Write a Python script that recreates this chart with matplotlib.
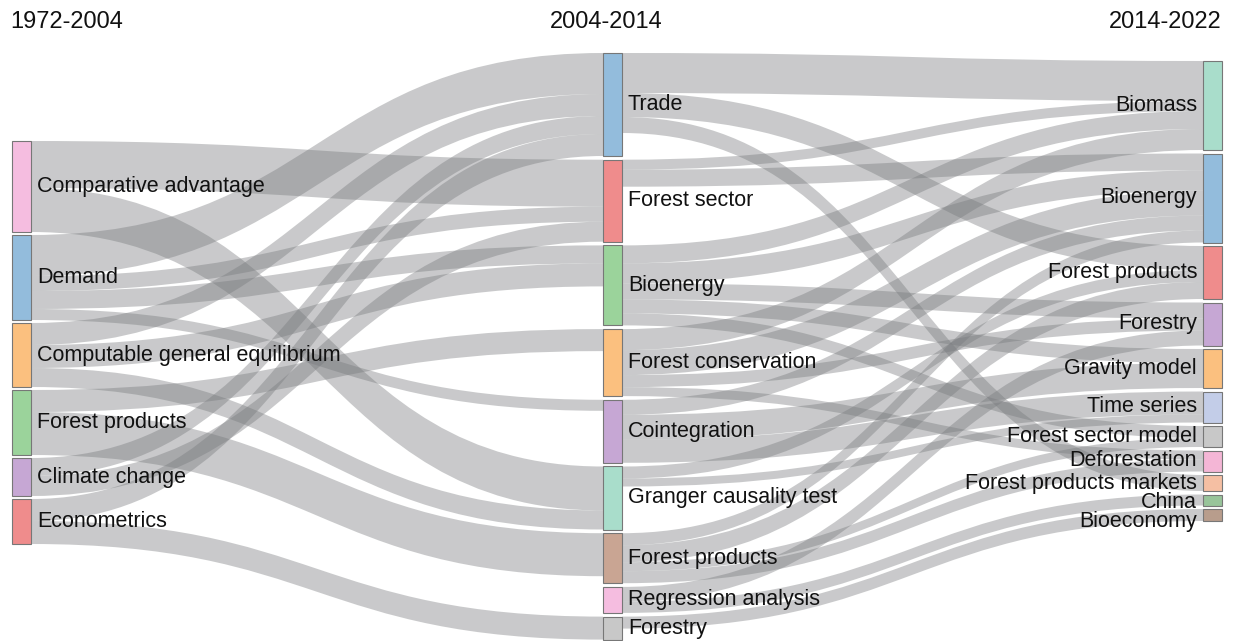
import matplotlib
matplotlib.use("Agg")
import matplotlib.pyplot as plt
from matplotlib.path import Path
from matplotlib.patches import PathPatch, Rectangle

plt.rcParams['font.family'] = ['Liberation Sans', 'DejaVu Sans']

# period titles
periods = ["1972-2004", "2004-2014", "2014-2022"]

# keywords per period (top to bottom)
col1 = ["Comparative advantage", "Demand", "Computable general equilibrium",
        "Forest products", "Climate change", "Econometrics"]
col2 = ["Trade", "Forest sector", "Bioenergy", "Forest conservation", "Cointegration",
        "Granger causality test", "Forest products", "Regression analysis", "Forestry"]
col3 = ["Biomass", "Bioenergy", "Forest products", "Forestry", "Gravity model",
        "Time series", "Forest sector model", "Deforestation", "Forest products markets",
        "China", "Bioeconomy"]

col1_colors = ["#f5bde0", "#93bcdc", "#fbc07f", "#9bd39b", "#c6a7d4", "#ef8c8c"]
col2_colors = ["#93bcdc", "#ef8c8c", "#9bd39b", "#fbc07f", "#c6a7d4",
               "#a9ddcb", "#c9a593", "#f5bde0", "#c8c8c8"]
col3_colors = ["#a9ddcb", "#93bcdc", "#ef8c8c", "#c6a7d4", "#fbc07f",
               "#c3cde8", "#c8c8c8", "#f4b6d6", "#f5bfa3", "#98c49a", "#b89d8c"]

# flows 1972-2004 -> 2004-2014 (source, target, value)
links12 = [
    ("Comparative advantage", "Forest sector", 47),
    ("Comparative advantage", "Granger causality test", 44),
    ("Demand", "Trade", 41),
    ("Demand", "Forest sector", 15),
    ("Demand", "Bioenergy", 18),
    ("Demand", "Cointegration", 11),
    ("Computable general equilibrium", "Trade", 22),
    ("Computable general equilibrium", "Bioenergy", 23),
    ("Computable general equilibrium", "Granger causality test", 19),
    ("Forest products", "Forest conservation", 22),
    ("Forest products", "Forest products", 43),
    ("Climate change", "Trade", 18),
    ("Climate change", "Forest sector", 20),
    ("Econometrics", "Trade", 22),
    ("Econometrics", "Forestry", 23),
]

# flows 2004-2014 -> 2014-2022
links23 = [
    ("Trade", "Biomass", 40),
    ("Trade", "Forest products", 24),
    ("Trade", "Forest products markets", 16),
    ("Forest sector", "Biomass", 10),
    ("Forest sector", "Bioenergy", 17),
    ("Bioenergy", "Biomass", 18),
    ("Bioenergy", "Bioenergy", 20),
    ("Bioenergy", "Forestry", 16),
    ("Bioenergy", "Gravity model", 14),
    ("Bioenergy", "Forest sector model", 12),
    ("Forest conservation", "Biomass", 21),
    ("Forest conservation", "Bioenergy", 25),
    ("Forest conservation", "Forestry", 12),
    ("Forest conservation", "Deforestation", 9),
    ("Cointegration", "Bioenergy", 15),
    ("Cointegration", "Gravity model", 25),
    ("Cointegration", "Time series", 23),
    ("Granger causality test", "Forest products", 12),
    ("Granger causality test", "Time series", 8),
    ("Forest products", "Bioenergy", 12),
    ("Forest products", "Forest products", 17),
    ("Forest products", "Forest sector model", 9),
    ("Forest products", "Deforestation", 12),
    ("Regression analysis", "Forestry", 15),
    ("Regression analysis", "China", 11),
    ("Forestry", "Bioeconomy", 12),
]

# layout settings
col_x = [12, 603, 1203]
node_w = 19
col_top = [141, 53, 61]
col_pad = [3, 3.7, 3.5]
label_nudge = {(2, "China"): 2, (2, "Bioeconomy"): 7}

cols = [col1, col2, col3]
colors = [col1_colors, col2_colors, col3_colors]
flows = [links12, links23]

# node sizes = max(incoming, outgoing)
size_in = {}
size_out = {}
for c, lk in enumerate(flows):
    for s, t, v in lk:
        size_out[(c, s)] = size_out.get((c, s), 0) + v
        size_in[(c + 1, t)] = size_in.get((c + 1, t), 0) + v

nodes = {}
for c, names in enumerate(cols):
    y = col_top[c]
    for n in names:
        h = max(size_in.get((c, n), 0), size_out.get((c, n), 0))
        nodes[(c, n)] = [y, h]
        y += h + col_pad[c]

fig = plt.figure(figsize=(12.33, 6.41), dpi=100)
ax = fig.add_axes([0, 0, 1, 1])
ax.set_xlim(0, 1233)
ax.set_ylim(641, 0)
ax.axis("off")

link_color = (0.47, 0.48, 0.49, 0.4)

for c, lk in enumerate(flows):
    # stack links at each end, ordered by the other end's position
    out_off = {}
    in_off = {}
    src_y = {}
    dst_y = {}
    for i, (s, t, v) in sorted(enumerate(lk), key=lambda e: (nodes[(c, e[1][0])][0], nodes[(c + 1, e[1][1])][0])):
        k = (c, s)
        src_y[i] = nodes[k][0] + out_off.get(k, 0)
        out_off[k] = out_off.get(k, 0) + v
    for i, (s, t, v) in sorted(enumerate(lk), key=lambda e: (nodes[(c + 1, e[1][1])][0], nodes[(c, e[1][0])][0])):
        k = (c + 1, t)
        dst_y[i] = nodes[k][0] + in_off.get(k, 0)
        in_off[k] = in_off.get(k, 0) + v
    x0 = col_x[c] + node_w
    x1 = col_x[c + 1]
    xm = (x0 + x1) / 2
    for i, (s, t, v) in enumerate(lk):
        y0, y1 = src_y[i], dst_y[i]
        verts = [(x0, y0), (xm, y0), (xm, y1), (x1, y1),
                 (x1, y1 + v), (xm, y1 + v), (xm, y0 + v), (x0, y0 + v), (x0, y0)]
        codes = [Path.MOVETO, Path.CURVE4, Path.CURVE4, Path.CURVE4,
                 Path.LINETO, Path.CURVE4, Path.CURVE4, Path.CURVE4, Path.CLOSEPOLY]
        ax.add_patch(PathPatch(Path(verts, codes), facecolor=link_color, edgecolor="none", zorder=1))

for c, names in enumerate(cols):
    for n, col in zip(names, colors[c]):
        y, h = nodes[(c, n)]
        ax.add_patch(Rectangle((col_x[c], y), node_w, h, facecolor=col,
                               edgecolor="#777777", linewidth=0.8, zorder=2))
        ym = y + h / 2 + label_nudge.get((c, n), 0)
        if c < 2:
            ax.text(col_x[c] + node_w + 6, ym, n, ha="left", va="center",
                    fontsize=15.5, color="#111111", zorder=3)
        else:
            ax.text(col_x[c] - 6, ym, n, ha="right", va="center",
                    fontsize=15.5, color="#111111", zorder=3)

ax.text(col_x[0] - 2, 22, periods[0], ha="left", va="center", fontsize=17, color="#111111")
ax.text(col_x[1] + 3, 22, periods[1], ha="center", va="center", fontsize=17, color="#111111")
ax.text(col_x[2] + node_w, 22, periods[2], ha="right", va="center", fontsize=17, color="#111111")

fig.savefig("out.png", dpi=100)
